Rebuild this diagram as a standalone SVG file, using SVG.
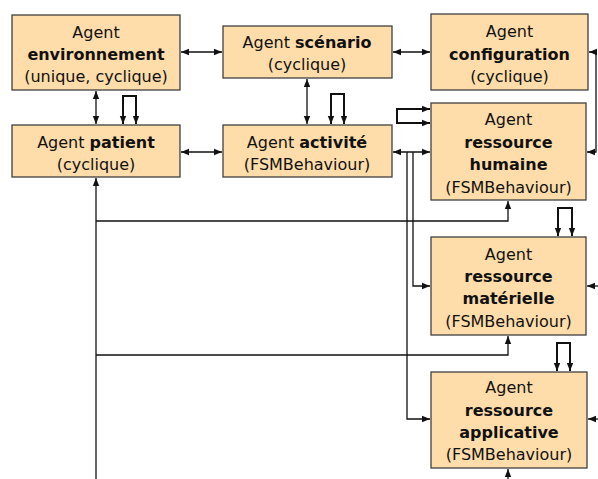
<svg xmlns="http://www.w3.org/2000/svg" width="598" height="479" viewBox="0 0 598 479">
<style>
.box{fill:#FFDDAA;stroke:#404040;stroke-width:1.3}
text{font-family:"DejaVu Sans","Liberation Sans",sans-serif;font-size:16px;fill:#111;text-anchor:middle}
.b{font-weight:bold}
.c{fill:none;stroke:#111;stroke-width:1.3}
.t{fill:none;stroke:#111;stroke-width:2}
</style>
<defs>
<marker id="a" markerUnits="userSpaceOnUse" markerWidth="8" markerHeight="8" refX="8" refY="4" orient="auto-start-reverse">
<path d="M0,0.8 L8,4 L0,7.2 z" fill="#111"/>
</marker>
</defs>
<rect width="598" height="479" fill="#fff"/>
<g id="connectors">
<line class="c" x1="181" y1="52" x2="222" y2="52" marker-start="url(#a)" marker-end="url(#a)"/>
<line class="c" x1="393" y1="52" x2="430" y2="52" marker-start="url(#a)" marker-end="url(#a)"/>
<line class="c" x1="181" y1="152" x2="222" y2="152" marker-start="url(#a)" marker-end="url(#a)"/>
<line class="c" x1="393" y1="152" x2="430" y2="152" marker-start="url(#a)" marker-end="url(#a)"/>
<line class="c" x1="96" y1="91" x2="96" y2="124" marker-start="url(#a)" marker-end="url(#a)"/>
<line class="c" x1="307" y1="79" x2="307" y2="124" marker-start="url(#a)" marker-end="url(#a)"/>
<path class="t" d="M123,124 V96 H136 V124" marker-start="url(#a)" marker-end="url(#a)"/>
<path class="t" d="M331,124 V94 H344 V124" marker-start="url(#a)" marker-end="url(#a)"/>
<path class="t" d="M430,109 H397 V123 H430" marker-start="url(#a)" marker-end="url(#a)"/>
<path class="t" d="M558,236 V208 H572 V236" marker-start="url(#a)" marker-end="url(#a)"/>
<path class="t" d="M557,371 V343 H570 V371" marker-start="url(#a)" marker-end="url(#a)"/>
<path class="c" d="M589,52 H596 V152 H587" marker-start="url(#a)" marker-end="url(#a)"/>
<path class="c" d="M413,152 V286 H430" marker-end="url(#a)"/>
<path class="c" d="M407,152 V419 H430" marker-end="url(#a)"/>
<path class="c" d="M96,479 V178" marker-end="url(#a)"/>
<path class="c" d="M96,221 H508 V201" marker-end="url(#a)"/>
<path class="c" d="M96,355 H508 V336" marker-end="url(#a)"/>
<line class="c" x1="508" y1="479" x2="508" y2="469" marker-end="url(#a)"/>
<line class="c" x1="598" y1="286" x2="587" y2="286" marker-end="url(#a)"/>
<line class="c" x1="598" y1="419" x2="588" y2="419" marker-end="url(#a)"/>
</g>
<g id="environnement">
<rect class="box" x="12" y="15" width="168" height="75"/>
<text x="96" y="38">Agent</text>
<text x="96" y="60" class="b">environnement</text>
<text x="96" y="82">(unique, cyclique)</text>
</g>
<g id="scenario">
<rect class="box" x="223" y="26" width="169" height="52"/>
<text x="307" y="48">Agent <tspan class="b">scénario</tspan></text>
<text x="307" y="70">(cyclique)</text>
</g>
<g id="configuration">
<rect class="box" x="431" y="14" width="157" height="76"/>
<text x="509.5" y="37">Agent</text>
<text x="509.5" y="60" class="b">configuration</text>
<text x="509.5" y="82">(cyclique)</text>
</g>
<g id="patient">
<rect class="box" x="12" y="125" width="168" height="52"/>
<text x="96" y="148">Agent <tspan class="b">patient</tspan></text>
<text x="96" y="170">(cyclique)</text>
</g>
<g id="activite">
<rect class="box" x="223" y="125" width="169" height="52"/>
<text x="307" y="148">Agent <tspan class="b">activité</tspan></text>
<text x="307" y="170">(FSMBehaviour)</text>
</g>
<g id="humaine">
<rect class="box" x="431" y="103" width="155" height="97"/>
<text x="508.5" y="125">Agent</text>
<text x="508.5" y="148" class="b">ressource</text>
<text x="508.5" y="170" class="b">humaine</text>
<text x="508.5" y="193">(FSMBehaviour)</text>
</g>
<g id="materielle">
<rect class="box" x="431" y="237" width="155" height="98"/>
<text x="508.5" y="260">Agent</text>
<text x="508.5" y="282" class="b">ressource</text>
<text x="508.5" y="304" class="b">matérielle</text>
<text x="508.5" y="327">(FSMBehaviour)</text>
</g>
<g id="applicative">
<rect class="box" x="431" y="372" width="156" height="96"/>
<text x="509" y="393">Agent</text>
<text x="509" y="416" class="b">ressource</text>
<text x="509" y="438" class="b">applicative</text>
<text x="509" y="460">(FSMBehaviour)</text>
</g>
</svg>
